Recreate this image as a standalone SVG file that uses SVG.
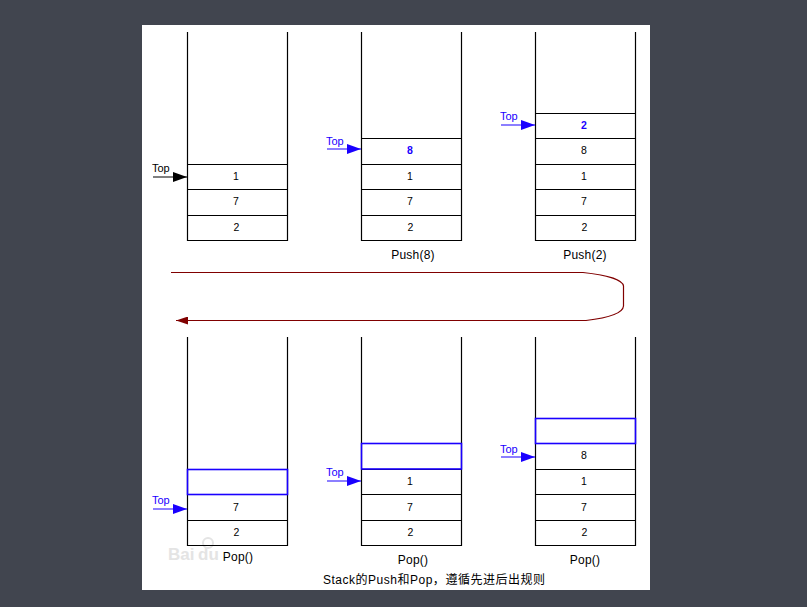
<svg xmlns="http://www.w3.org/2000/svg" width="807" height="607" viewBox="0 0 807 607">
<style>
.s{fill:none;stroke:#000;stroke-width:1.2}
.h{fill:none;stroke:#1a00ff;stroke-width:1.6}
.k{stroke:#000;stroke-width:1.2}
.b{stroke:#1a00ff;stroke-width:1.2}
text{font-family:"Liberation Sans","Noto Sans CJK SC",sans-serif;font-size:12px;fill:#000}
.n{font-size:10.5px;text-anchor:middle}
.t{font-size:11px}
.tb{font-size:11px;fill:#1a00ff}
.v{font-size:10.5px;text-anchor:middle;font-weight:bold;fill:#1a00ff}
.c{text-anchor:middle;letter-spacing:.2px}
.w{font-size:17px;fill:#e4e4e4;font-weight:bold}
</style>
<defs>
<marker id="ab" markerUnits="userSpaceOnUse" markerWidth="14" markerHeight="10" refX="14" refY="5" orient="auto"><path d="M0 0L14 5L0 10z" fill="#1a00ff"/></marker>
<marker id="ak" markerUnits="userSpaceOnUse" markerWidth="14" markerHeight="10" refX="14" refY="5" orient="auto"><path d="M0 0L14 5L0 10z" fill="#000"/></marker>
<marker id="ar" markerUnits="userSpaceOnUse" markerWidth="12" markerHeight="8" refX="12" refY="4" orient="auto"><path d="M0 0L12 4L0 8z" fill="#800000"/></marker>
</defs>
<rect width="807" height="607" fill="#41454f"/>
<rect x="142" y="25" width="508" height="565" fill="#fff"/>

<g id="stack-1">
<path class="s" d="M187.500 32V240.500H287.500V32M187.500 164.500H287.500M187.500 189.500H287.500M187.500 215.500H287.500"/>
<text class="n" x="236" y="180">1</text><text class="n" x="236" y="205">7</text><text class="n" x="236.500" y="231">2</text>
<text class="t" x="152" y="172">Top</text>
<line class="k" x1="153" y1="177" x2="187" y2="177" marker-end="url(#ak)"/>
</g>
<g id="stack-2">
<path class="s" d="M361.500 32V240.500H461.500V32M361.500 138.500H461.500M361.500 164.500H461.500M361.500 189.500H461.500M361.500 215.500H461.500"/>
<text class="v" x="410" y="154">8</text>
<text class="n" x="410" y="180">1</text><text class="n" x="410" y="205">7</text><text class="n" x="410.500" y="231">2</text>
<text class="tb" x="326" y="145">Top</text>
<line class="b" x1="327" y1="149" x2="361" y2="149" marker-end="url(#ab)"/>
<text class="c" x="413" y="259">Push(8)</text>
</g>
<g id="stack-3">
<path class="s" d="M535.500 32V240.500H635.500V32M535.500 113.500H635.500M535.500 138.500H635.500M535.500 164.500H635.500M535.500 189.500H635.500M535.500 215.500H635.500"/>
<text class="v" x="584" y="129">2</text><text class="n" x="584" y="154">8</text>
<text class="n" x="584" y="180">1</text><text class="n" x="584" y="205">7</text><text class="n" x="584.500" y="231">2</text>
<text class="tb" x="500" y="120">Top</text>
<line class="b" x1="501" y1="125" x2="535" y2="125" marker-end="url(#ab)"/>
<text class="c" x="585" y="259">Push(2)</text>
</g>

<g id="connectors">
<path d="M171 272.500H583C607 275 623 280 623.500 286V306C623 314 607 318 586 320.500H176" fill="none" stroke="#800000" stroke-width="1.200" marker-end="url(#ar)"/>
</g>

<g id="watermark">
<text class="w" x="168" y="560">Bai</text>
<text class="w" x="198" y="560">du</text>
<circle cx="208" cy="543" r="5" fill="none" stroke="#e4e4e4" stroke-width="2"/>
</g>
<g id="stack-4">
<path class="s" d="M187.500 337V545.500H287.500V337M187.500 494.500H287.500M187.500 520.500H287.500"/>
<rect class="h" x="187.500" y="469.500" width="100" height="25"/>
<text class="n" x="236" y="511">7</text><text class="n" x="236.500" y="536">2</text>
<text class="tb" x="152" y="504">Top</text>
<line class="b" x1="153" y1="509" x2="187" y2="509" marker-end="url(#ab)"/>
<text class="c" x="238" y="561">Pop()</text>
</g>
<g id="stack-5">
<path class="s" d="M361.500 337V545.500H461.500V337M361.500 469.500H461.500M361.500 494.500H461.500M361.500 520.500H461.500"/>
<rect class="h" x="361.500" y="443.500" width="100" height="25.500"/>
<text class="n" x="410" y="485">1</text><text class="n" x="410" y="511">7</text><text class="n" x="410.500" y="536">2</text>
<text class="tb" x="326" y="476">Top</text>
<line class="b" x1="327" y1="481" x2="361" y2="481" marker-end="url(#ab)"/>
<text class="c" x="413" y="564">Pop()</text>
</g>
<g id="stack-6">
<path class="s" d="M535.500 337V545.500H635.500V337M535.500 443.500H635.500M535.500 469.500H635.500M535.500 494.500H635.500M535.500 520.500H635.500"/>
<rect class="h" x="535.500" y="418.500" width="100" height="25"/>
<text class="n" x="584" y="459">8</text><text class="n" x="584" y="485">1</text><text class="n" x="584" y="511">7</text><text class="n" x="584.500" y="536">2</text>
<text class="tb" x="500" y="453">Top</text>
<line class="b" x1="501" y1="457" x2="535" y2="457" marker-end="url(#ab)"/>
<text class="c" x="585" y="564">Pop()</text>
</g>

<g id="caption">
<text x="323" y="584" textLength="222">Stack的Push和Pop，遵循先进后出规则</text>
</g>
</svg>
